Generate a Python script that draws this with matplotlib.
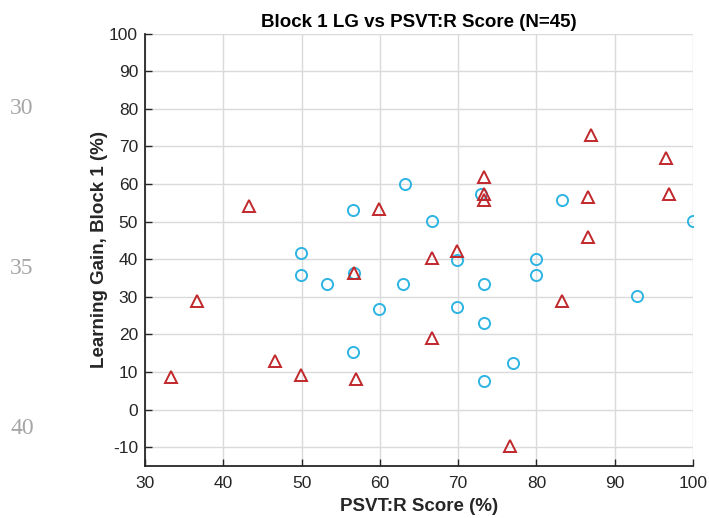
import matplotlib
matplotlib.use("Agg")
import matplotlib.pyplot as plt

# Group A: red triangles (PSVT:R score, learning gain)
tri_x = [33.3, 36.6, 43.3, 46.6, 49.9, 56.7, 56.9, 59.9, 66.6, 66.6, 69.9,
         73.3, 73.3, 73.3, 76.6, 83.3, 86.6, 86.6, 87.0, 96.6, 97.0]
tri_y = [8.6, 28.8, 54.1, 12.9, 9.3, 36.2, 8.0, 53.3, 40.4, 19.1, 42.2,
         61.9, 57.4, 55.8, -9.8, 28.8, 56.5, 45.9, 73.0, 66.9, 57.4]

# Group B: blue circles
cir_x = [49.9, 49.9, 53.3, 56.6, 56.7, 56.6, 59.9, 63.2, 62.9, 66.6, 69.9,
         69.9, 72.9, 73.3, 73.3, 73.3, 77.0, 79.9, 79.9, 83.3, 92.9, 100.0]
cir_y = [41.7, 35.7, 33.3, 53.0, 36.4, 15.4, 26.8, 60.0, 33.3, 50.1, 39.9,
         27.3, 57.4, 33.3, 23.0, 7.7, 12.5, 40.1, 35.7, 55.7, 30.1, 50.1]

x_ticks = [30, 40, 50, 60, 70, 80, 90, 100]
y_ticks = [-10, 0, 10, 20, 30, 40, 50, 60, 70, 80, 90, 100]
line_numbers = ["30", "35", "40"]
line_number_y = [108, 269, 429]

plt.rcParams["font.family"] = ["Liberation Sans", "DejaVu Sans"]
plt.rcParams["axes.unicode_minus"] = False

fig = plt.figure(figsize=(7.09, 5.18), dpi=100)
ax = fig.add_axes([0.2045, 0.1004, 0.7729, 0.8349])

ax.plot(cir_x, cir_y, "o", ms=8, mfc="none", mec="#2DB4E3", mew=1.4, zorder=3)
ax.plot(tri_x, tri_y, "^", ms=8.5, mfc="none", mec="#C0282B", mew=1.4, zorder=3)

ax.set_xlim(30, 100)
ax.set_ylim(-15, 100)
ax.set_xticks(x_ticks)
ax.set_yticks(y_ticks)
ax.grid(True, color="#DADADA", lw=1)
ax.set_axisbelow(True)
for s in ["top", "right"]:
    ax.spines[s].set_visible(False)
for s in ["left", "bottom"]:
    ax.spines[s].set_color("#262626")
    ax.spines[s].set_linewidth(1.3)
ax.tick_params(direction="in", length=5, width=1, color="#262626",
               labelsize=12.5, labelcolor="#262626")
ax.tick_params(axis="y", pad=5)
ax.tick_params(axis="x", pad=7)

ax.set_title("Block 1 LG vs PSVT:R Score (N=45)", fontsize=13.5,
             fontweight="bold", pad=5)
ax.set_xlabel("PSVT:R Score (%)", fontsize=13.5, fontweight="bold",
              color="#262626", labelpad=5)
ax.set_ylabel("Learning Gain, Block 1 (%)", fontsize=13.5, fontweight="bold",
              color="#262626", labelpad=1)

# manuscript line numbers in the margin
for txt, py in zip(line_numbers, line_number_y):
    fig.text(22 / 709, 1 - py / 518, txt, fontsize=17, color="#A6A6A6",
             family=["Liberation Serif", "DejaVu Serif"], ha="center", va="center")

fig.savefig("out.png", dpi=100)
